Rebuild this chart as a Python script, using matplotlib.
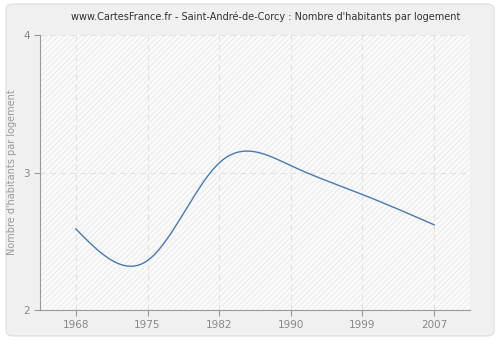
import matplotlib
matplotlib.use("Agg")
import matplotlib.pyplot as plt
from matplotlib.patches import FancyBboxPatch, Rectangle
import numpy as np

years = ["1968", "1975", "1982", "1990", "1999", "2007"]
values = [2.59, 2.36, 3.07, 3.05, 2.84, 2.62]
title = "www.CartesFrance.fr - Saint-André-de-Corcy : Nombre d'habitants par logement"
ylabel = "Nombre d'habitants par logement"


def natural_spline(x, y, n=400):
    x = np.asarray(x, float)
    y = np.asarray(y, float)
    k = len(x)
    h = np.diff(x)
    A = np.zeros((k, k))
    b = np.zeros(k)
    A[0, 0] = A[-1, -1] = 1
    for i in range(1, k - 1):
        A[i, i - 1] = h[i - 1]
        A[i, i] = 2 * (h[i - 1] + h[i])
        A[i, i + 1] = h[i]
        b[i] = 3 * ((y[i + 1] - y[i]) / h[i] - (y[i] - y[i - 1]) / h[i - 1])
    c = np.linalg.solve(A, b)
    xs = np.linspace(x[0], x[-1], n)
    idx = np.clip(np.searchsorted(x, xs) - 1, 0, k - 2)
    dx = xs - x[idx]
    bb = (y[1:] - y[:-1]) / h - h * (2 * c[:-1] + c[1:]) / 3
    d = (c[1:] - c[:-1]) / (3 * h)
    ys = y[idx] + bb[idx] * dx + c[idx] * dx ** 2 + d[idx] * dx ** 3
    return xs, ys


fig = plt.figure(figsize=(5, 3.4), dpi=100)
fig.patch.set_facecolor("white")
fig.add_artist(FancyBboxPatch((0.012, 0.012), 0.976, 0.976,
                              boxstyle="round,pad=0,rounding_size=0.015",
                              transform=fig.transFigure, facecolor="#f0f0f0",
                              edgecolor="#e2e2e2", linewidth=1, zorder=-10))

ax = fig.add_axes([0.08, 0.088, 0.86, 0.809])
ax.set_facecolor("#fbfbfb")
ax.add_patch(Rectangle((0, 0), 1, 1, transform=ax.transAxes, facecolor="none",
                       edgecolor="#eeeeee", hatch="//////", linewidth=0, zorder=0))

pos = np.arange(len(years))
xs, ys = natural_spline(pos, values)
ax.plot(xs, ys, color="#4a7ab0", linewidth=1.0, zorder=3)

ax.set_xlim(-0.5, len(years) - 0.5)
ax.set_ylim(2, 4)
ax.set_xticks(pos)
ax.set_xticklabels(years)
ax.set_yticks([2, 3, 4])

for p in pos:
    ax.axvline(p, color="#e2e2e2", linestyle=(0, (5, 4)), linewidth=0.8, zorder=1)
for v in [3, 4]:
    ax.axhline(v, color="#e2e2e2", linestyle=(0, (5, 4)), linewidth=0.8, zorder=1)

for s in ["top", "right"]:
    ax.spines[s].set_visible(False)
for s in ["left", "bottom"]:
    ax.spines[s].set_color("#999999")
ax.tick_params(colors="#999999", labelcolor="#888888", labelsize=7.5, length=4)
ax.set_ylabel(ylabel, color="#999999", fontsize=7)
fig.text(0.532, 0.95, title, ha="center", va="center", fontsize=7, color="#333333")

fig.savefig("out.png", dpi=100)
